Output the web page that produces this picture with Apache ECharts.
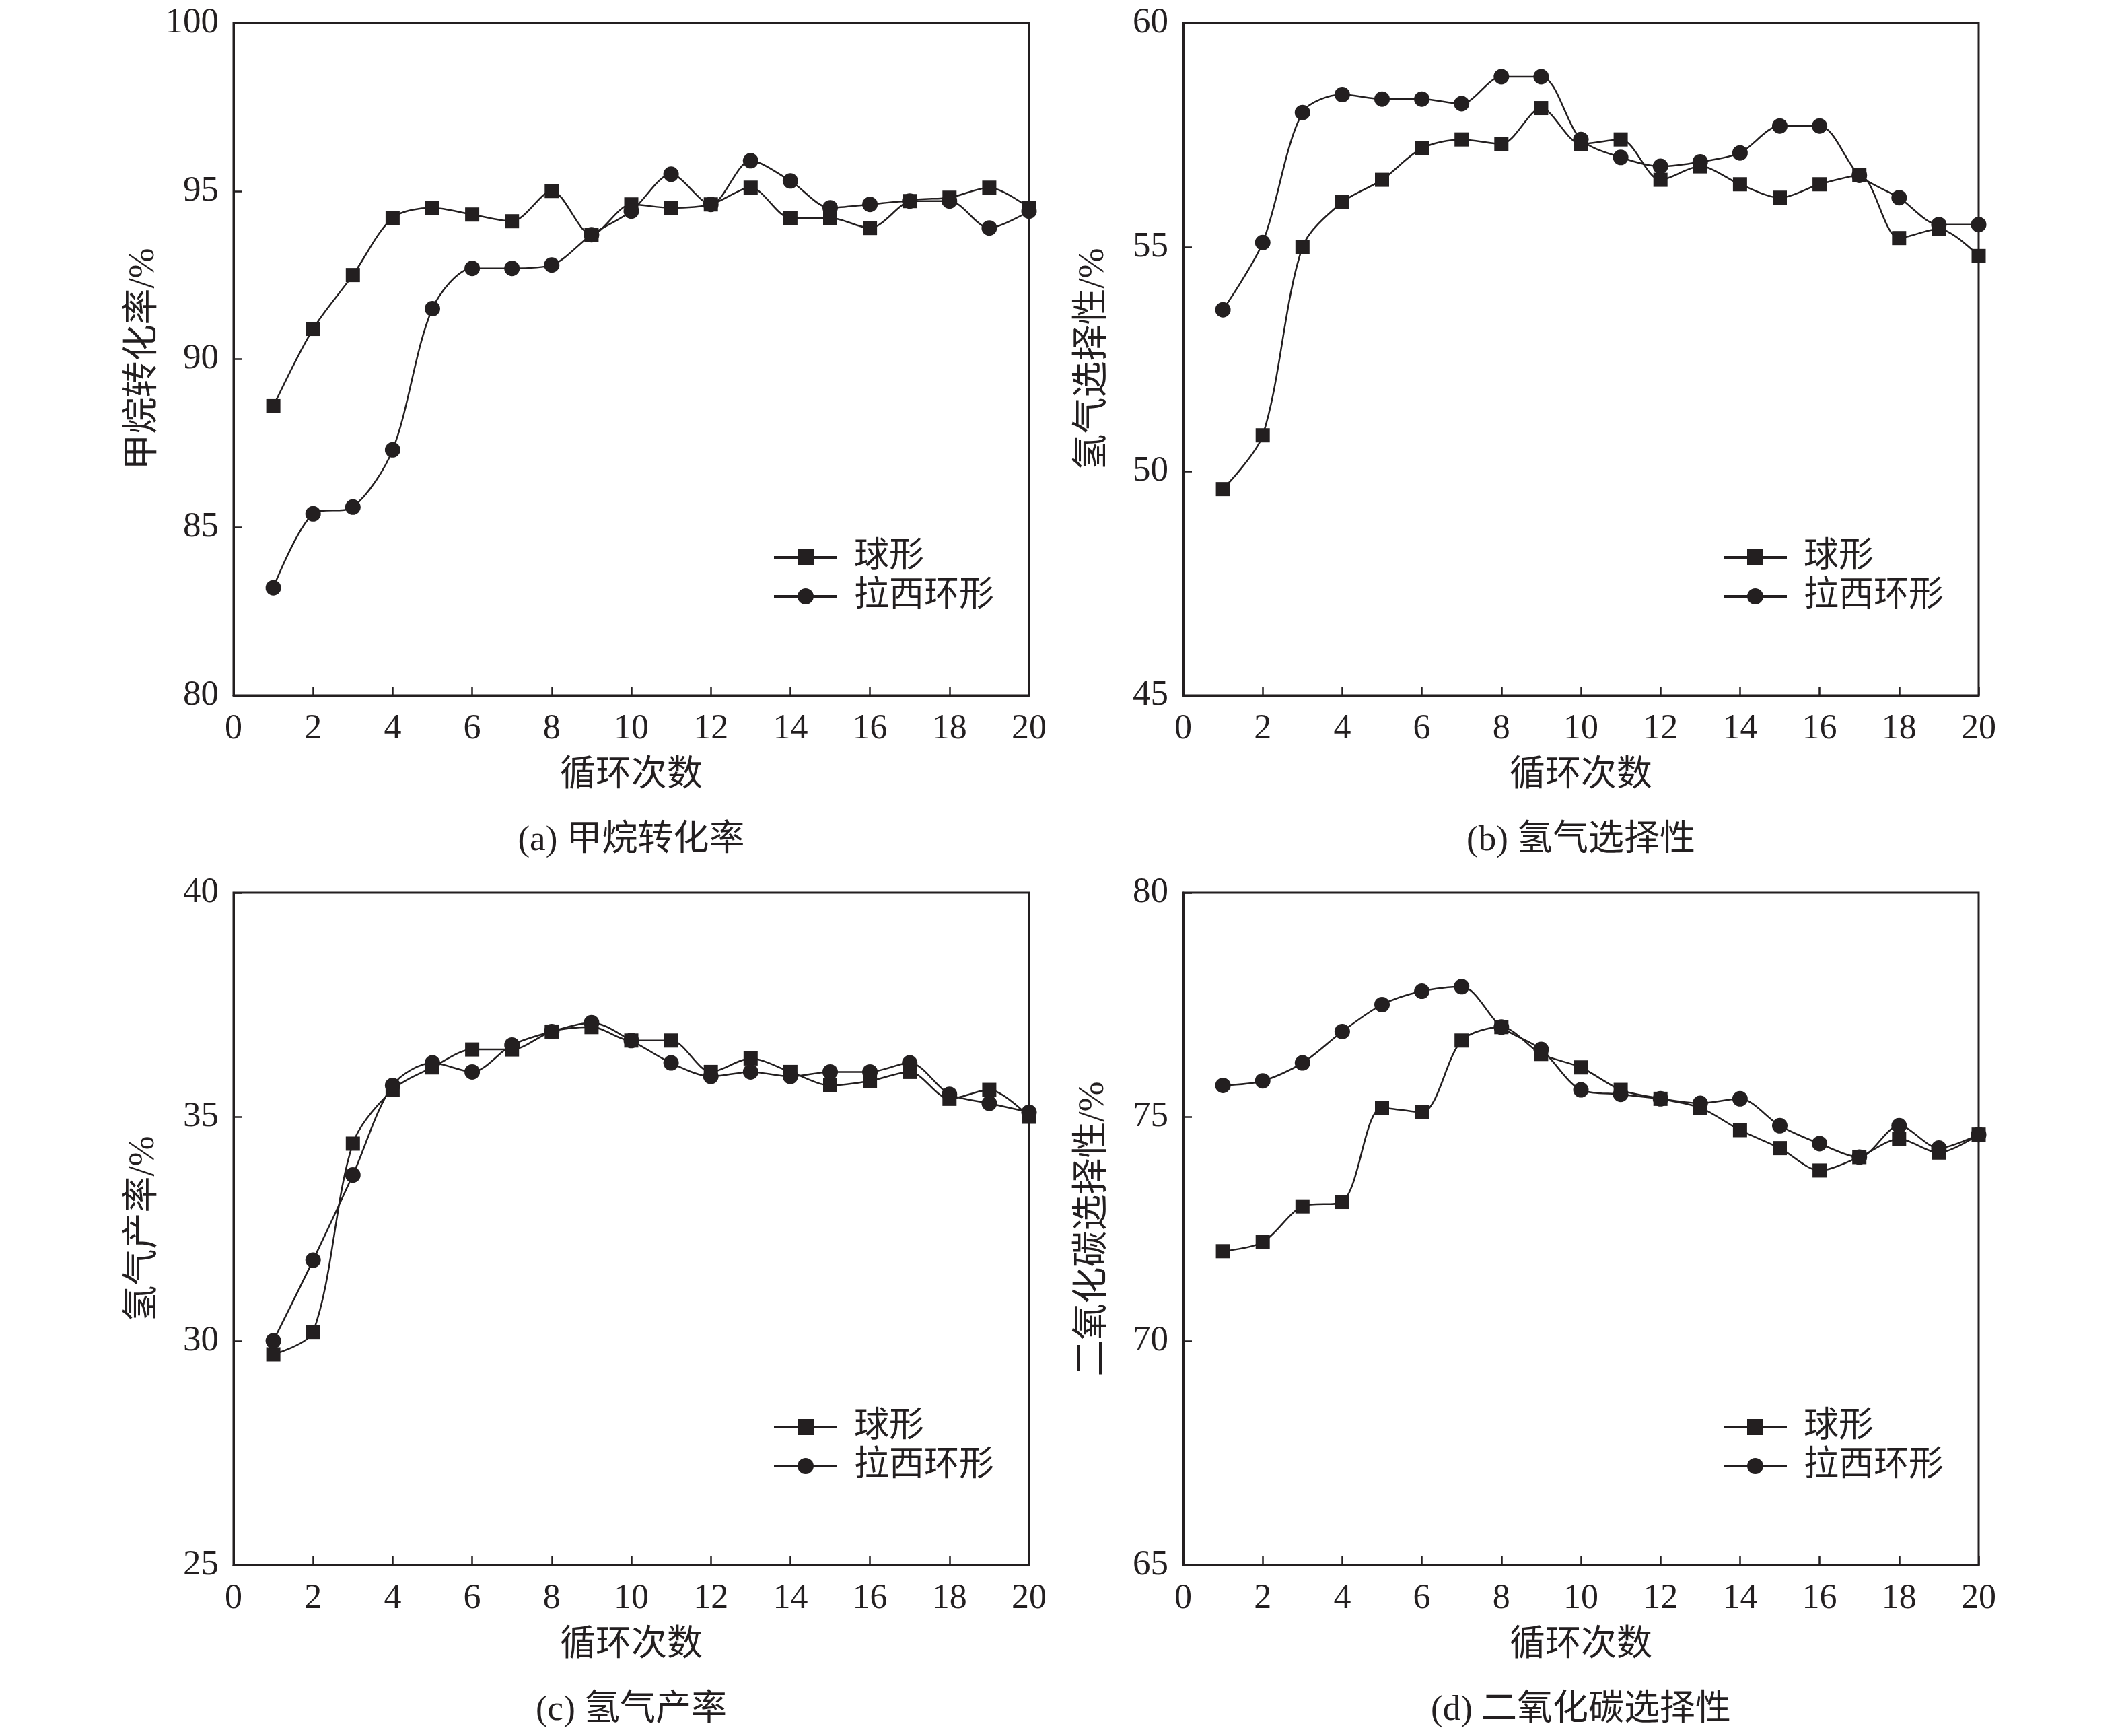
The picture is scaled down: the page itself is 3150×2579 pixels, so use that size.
<!DOCTYPE html>
<html>
<head>
<meta charset="utf-8">
<script src="https://cdn.jsdelivr.net/npm/echarts@6/dist/echarts.min.js"></script>
<style>
  html, body { margin: 0; padding: 0; background: #fff; }
  #chart { width: 3150px; height: 2579px; }
</style>
</head>
<body>
<div id="chart"></div>
<script>
// 循环次数
var cycles = [1, 2, 3, 4, 5, 6, 7, 8, 9, 10, 11, 12, 13, 14, 15, 16, 17, 18, 19, 20];

// (a) 甲烷转化率 /%
var methaneSphere  = [88.6, 90.9, 92.5, 94.2, 94.5, 94.3, 94.1, 95.0, 93.7, 94.6, 94.5, 94.6, 95.1, 94.2, 94.2, 93.9, 94.7, 94.8, 95.1, 94.5];
var methaneRaschig = [83.2, 85.4, 85.6, 87.3, 91.5, 92.7, 92.7, 92.8, 93.7, 94.4, 95.5, 94.6, 95.9, 95.3, 94.5, 94.6, 94.7, 94.7, 93.9, 94.4];

// (b) 氢气选择性 /%
var h2SelSphere  = [49.6, 50.8, 55.0, 56.0, 56.5, 57.2, 57.4, 57.3, 58.1, 57.3, 57.4, 56.5, 56.8, 56.4, 56.1, 56.4, 56.6, 55.2, 55.4, 54.8];
var h2SelRaschig = [53.6, 55.1, 58.0, 58.4, 58.3, 58.3, 58.2, 58.8, 58.8, 57.4, 57.0, 56.8, 56.9, 57.1, 57.7, 57.7, 56.6, 56.1, 55.5, 55.5];

// (c) 氢气产率 /%
var h2YieldSphere  = [29.7, 30.2, 34.4, 35.6, 36.1, 36.5, 36.5, 36.9, 37.0, 36.7, 36.7, 36.0, 36.3, 36.0, 35.7, 35.8, 36.0, 35.4, 35.6, 35.0];
var h2YieldRaschig = [30.0, 31.8, 33.7, 35.7, 36.2, 36.0, 36.6, 36.9, 37.1, 36.7, 36.2, 35.9, 36.0, 35.9, 36.0, 36.0, 36.2, 35.5, 35.3, 35.1];

// (d) 二氧化碳选择性 /%
var co2SelSphere  = [72.0, 72.2, 73.0, 73.1, 75.2, 75.1, 76.7, 77.0, 76.4, 76.1, 75.6, 75.4, 75.2, 74.7, 74.3, 73.8, 74.1, 74.5, 74.2, 74.6];
var co2SelRaschig = [75.7, 75.8, 76.2, 76.9, 77.5, 77.8, 77.9, 77.0, 76.5, 75.6, 75.5, 75.4, 75.3, 75.4, 74.8, 74.4, 74.1, 74.8, 74.3, 74.6];

var xTickLabels = ['0', '2', '4', '6', '8', '10', '12', '14', '16', '18', '20'];

var panels = [
    { caption: '(a) 甲烷转化率', yName: '甲烷转化率/%', yMin: 80, yMax: 100, sphere: methaneSphere, raschig: methaneRaschig },
    { caption: '(b) 氢气选择性', yName: '氢气选择性/%', yMin: 45, yMax: 60, sphere: h2SelSphere, raschig: h2SelRaschig },
    { caption: '(c) 氢气产率', yName: '氢气产率/%', yMin: 25, yMax: 40, sphere: h2YieldSphere, raschig: h2YieldRaschig },
    { caption: '(d) 二氧化碳选择性', yName: '二氧化碳选择性/%', yMin: 65, yMax: 80, sphere: co2SelSphere, raschig: co2SelRaschig }
];

var ink = '#231f20';
var font = "'Liberation Serif', 'Noto Sans CJK SC', serif";
var lefts = [347, 1758];
var tops = [34, 1326];
var plotW = 1182;
var plotH = 999;

function pairs(ys) {
    return cycles.map(function (c, i) { return [c, ys[i]]; });
}

var grids = [], xAxes = [], yAxes = [], series = [], legends = [], captions = [];

panels.forEach(function (p, i) {
    var left = lefts[i % 2];
    var top = tops[Math.floor(i / 2)];

    grids.push({
        left: left, top: top, width: plotW, height: plotH,
        show: true, borderColor: ink, borderWidth: 3, backgroundColor: 'transparent'
    });

    xAxes.push({
        gridIndex: i, type: 'value', min: 0, max: 20, interval: 2,
        name: '循环次数', nameLocation: 'middle', nameGap: 94,
        nameTextStyle: { color: ink, fontSize: 53, fontFamily: font, lineHeight: 53 },
        axisLine: { show: true, lineStyle: { color: ink, width: 3 } },
        axisTick: { show: true, inside: true, length: 13, lineStyle: { color: ink, width: 2.5 } },
        axisLabel: {
            color: ink, fontSize: 52, fontFamily: font, margin: 24, lineHeight: 52,
            formatter: function (v) { return xTickLabels[v / 2]; }
        },
        splitLine: { show: false }
    });

    yAxes.push({
        gridIndex: i, type: 'value', min: p.yMin, max: p.yMax, interval: 5,
        name: p.yName, nameLocation: 'middle', nameGap: 106,
        nameTextStyle: { color: ink, fontSize: 54, fontFamily: font, lineHeight: 54 },
        axisLine: { show: true, lineStyle: { color: ink, width: 3 } },
        axisTick: { show: true, inside: true, length: 13, lineStyle: { color: ink, width: 2.5 } },
        axisLabel: { color: ink, fontSize: 53, fontFamily: font, margin: 22 },
        splitLine: { show: false }
    });

    series.push({
        name: '球形', type: 'line', xAxisIndex: i, yAxisIndex: i,
        data: pairs(p.sphere), smooth: 0.3,
        symbol: 'rect', symbolSize: 21,
        lineStyle: { color: ink, width: 2.5 },
        itemStyle: { color: ink },
        z: 3
    });
    series.push({
        name: '拉西环形', type: 'line', xAxisIndex: i, yAxisIndex: i,
        data: pairs(p.raschig), smooth: 0.3,
        symbol: 'circle', symbolSize: 23,
        lineStyle: { color: ink, width: 2.5 },
        itemStyle: { color: ink },
        z: 3
    });

    legends.push({
        orient: 'vertical', left: left + 796, top: top + 763,
        itemWidth: 94, itemHeight: 30, itemGap: 6,
        selectedMode: false,
        data: ['球形', '拉西环形'],
        lineStyle: { width: 4 },
        textStyle: { color: ink, fontSize: 52, fontFamily: font, lineHeight: 50, padding: [0, 0, 0, 20] }
    });

    captions.push({
        type: 'text', x: left + plotW / 2, y: top + plotH + 216,
        style: {
            text: p.caption, fill: ink, fontSize: 53, fontFamily: font,
            align: 'center', verticalAlign: 'middle'
        }
    });
});

var chart = echarts.init(document.getElementById('chart'));
chart.setOption({
    backgroundColor: '#fff',
    animation: false,
    grid: grids,
    xAxis: xAxes,
    yAxis: yAxes,
    legend: legends,
    series: series,
    graphic: captions
});
</script>
</body>
</html>
